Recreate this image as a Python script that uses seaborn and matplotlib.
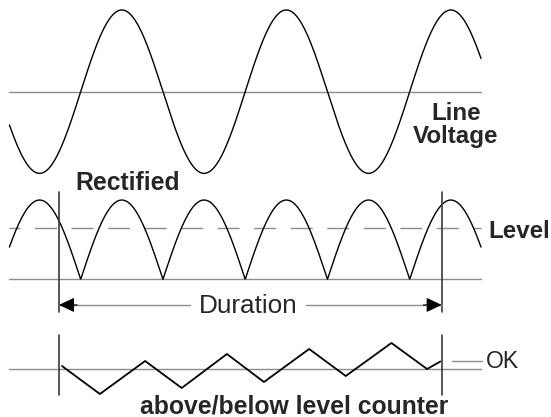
import numpy as np
import pandas as pd
import matplotlib
matplotlib.use("Agg")
import matplotlib.pyplot as plt
import seaborn as sns

# ---------------- data (time in electrical degrees) ----------------
T_START, T_END = -156, 876            # span of the drawn waveforms
LINE_AMPLITUDE = 1.0                  # line voltage peak (normalised)
LEVEL = 0.65                          # detection level on rectified signal
DURATION = [-47.5, 790]               # start / end of measured duration
COUNTER_T = [-41, 42, 141, 221, 320, 401, 500, 580, 680, 758, 787]
COUNTER_V = [3, -25, 8, -19, 15, -13, 20, -7, 26, 0, 7.5]
OK_LEVEL = 8

# ---------------- figure ----------------
W, H = 551, 417
sns.set_style("white")
plt.rcParams['font.family'] = ['Liberation Sans', 'DejaVu Sans']
fig = plt.figure(figsize=(W / 100, H / 100), dpi=100)

XLIM = (-176.6, 1029.2)
ax1 = fig.add_axes([0, 1 - 184 / H, 1, 184 / H])
ax2 = fig.add_axes([0, 1 - 325 / H, 1, (325 - 184) / H])
ax3 = fig.add_axes([0, 0, 1, 92 / H])
for ax in (ax1, ax2, ax3):
    ax.set_xlim(*XLIM)
    ax.set_axis_off()
    ax.patch.set_alpha(0)
ax1.set_ylim(-1.13, 1.122)
ax2.set_ylim(-0.576, 1.202)
ax3.set_ylim(-48, 44)

GRAY = "#8c8c8c"
DARK = "#3a3a3a"

t = np.linspace(T_START, T_END, 1500)
line_v = LINE_AMPLITUDE * np.sin(np.radians(t))
df = pd.DataFrame({"t": t, "v": line_v, "r": np.abs(line_v)})

# ---- line voltage ----
ax1.plot([T_START, T_END], [0, 0], color=GRAY, lw=1.0)
sns.lineplot(data=df, x="t", y="v", ax=ax1, color="black", lw=1.0)

# ---- rectified ----
ax2.plot([T_START, T_END], [0, 0], color=GRAY, lw=1.0)
ax2.plot([T_START, T_END], [LEVEL, LEVEL], color=GRAY, lw=1.0,
         ls=(7.9, (15.8, 10.5)))
sns.lineplot(data=df, x="t", y="r", ax=ax2, color="black", lw=1.0)
for d in DURATION:
    ax2.plot([d, d], [1.101, -0.412], color=DARK, lw=1.2, clip_on=False)

# duration arrow
y_arr = -0.323
gap_l, gap_r = 240, 492
ax2.plot([DURATION[0], gap_l], [y_arr, y_arr], color=GRAY, lw=1.0)
ax2.plot([gap_r, DURATION[1]], [y_arr, y_arr], color=GRAY, lw=1.0)
for tip, tail in ((DURATION[0], DURATION[0] + 40), (DURATION[1], DURATION[1] - 40)):
    ax2.annotate("", xy=(tip, y_arr), xytext=(tail, y_arr),
                 arrowprops=dict(arrowstyle="-|>,head_length=0.95,head_width=0.45",
                                 color="black", lw=0.8, shrinkA=0, shrinkB=0))

# ---- counter ----
ax3.plot([T_START, T_END], [0, 0], color=GRAY, lw=1.0)
ax3.plot([812, 878], [OK_LEVEL, OK_LEVEL], color=GRAY, lw=1.0)
cdf = pd.DataFrame({"t": COUNTER_T, "c": COUNTER_V})
sns.lineplot(data=cdf, x="t", y="c", ax=ax3, color="black", lw=1.3)
for d in DURATION:
    ax3.plot([d, d], [34, -26], color=DARK, lw=1.2, clip_on=False)

# ---------------- texts ----------------
def ftext(x, y, s, **kw):
    fig.text(x / W, 1 - y / H, s, **kw)

FS = 17.4
ftext(456, 113, "Line", fontsize=FS, fontweight="bold", ha="center", va="center")
ftext(456, 137, "Voltage", fontsize=FS, fontweight="bold", ha="center", va="center")
ftext(75, 190, "Rectified", fontsize=17.8, fontweight="bold", ha="left", va="baseline")
ftext(488, 238, "Level", fontsize=FS, fontweight="bold", ha="left", va="baseline")
ftext(248, 313, "Duration", fontsize=18.8, ha="center", va="baseline")
ftext(486, 368, "OK", fontsize=16.5, ha="left", va="baseline")
ftext(140, 413, "above/below level counter", fontsize=17.8, fontweight="bold",
      ha="left", va="baseline")

fig.savefig("out.png", dpi=100, facecolor="white")
